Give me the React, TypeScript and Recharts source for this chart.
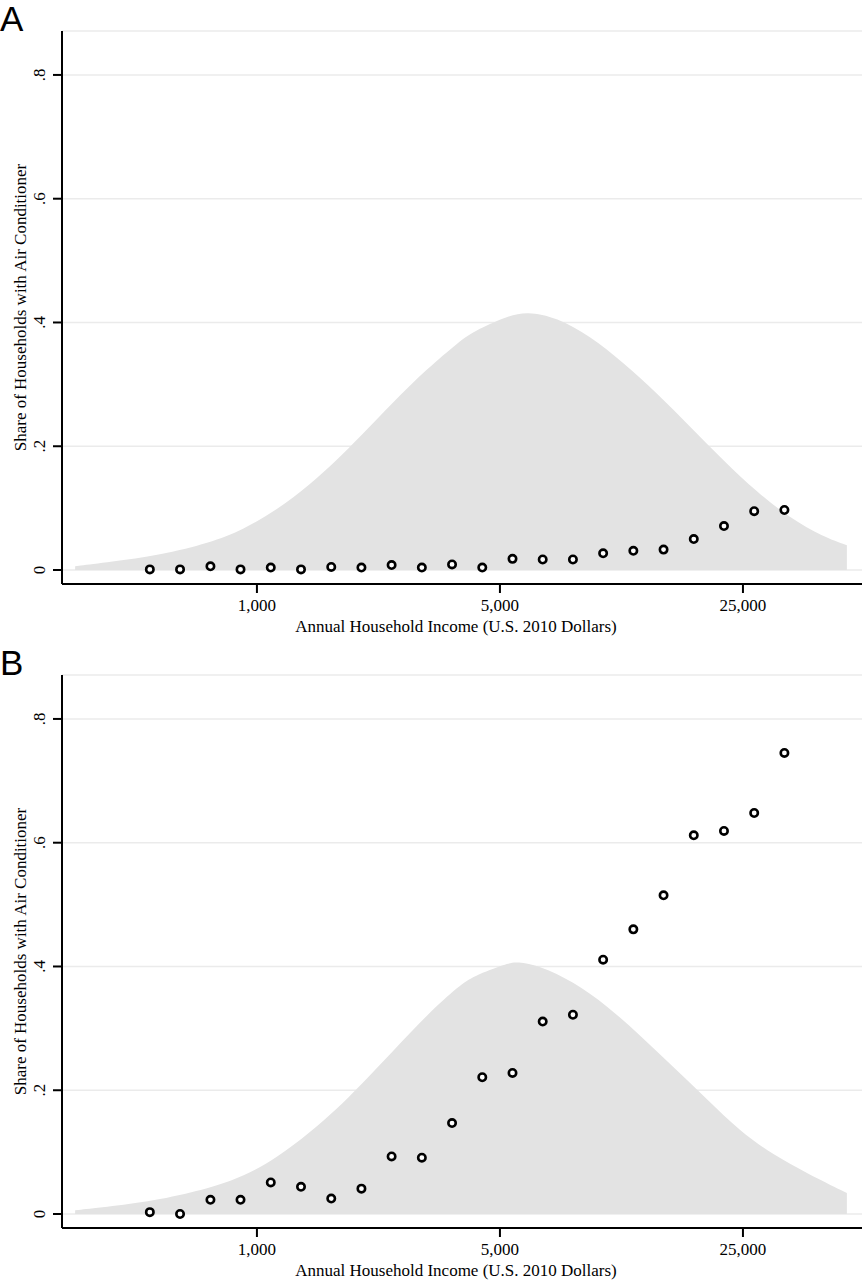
import React from 'react';
import { ComposedChart, Area, Scatter, XAxis, YAxis, CartesianGrid } from 'recharts';

// ---------- data ----------
const incomeTicks = [1000, 5000, 25000];
const shareTicks = [0, 0.2, 0.4, 0.6, 0.8];

// income bins (U.S. 2010 dollars) of the scatter points
const binIncome = [
  492, 601, 735, 897, 1096, 1339, 1636, 1998, 2440, 2981, 3641,
  4448, 5434, 6637, 8108, 9903, 12097, 14777, 18051, 22048, 26933, 32899,
];
const shareA = [
  0.001, 0.001, 0.006, 0.001, 0.004, 0.001, 0.005, 0.004, 0.008, 0.004, 0.009,
  0.004, 0.018, 0.017, 0.017, 0.027, 0.031, 0.033, 0.05, 0.071, 0.095, 0.097,
];
const shareB = [
  0.003, 0.0, 0.023, 0.023, 0.051, 0.044, 0.025, 0.041, 0.093, 0.091, 0.147,
  0.221, 0.228, 0.311, 0.322, 0.411, 0.46, 0.515, 0.612, 0.619, 0.648, 0.745,
];

// income density (gray area)
const densityIncomeA = [
  300, 378, 526, 732, 911, 1142, 1421, 1699, 1978, 2461, 3082, 3835, 4180,
  5236, 5976, 7293, 9073, 11288, 14141, 17592, 21884, 27416, 34113, 42443, 49763,
];
const densityA = [
  0.006, 0.013, 0.024, 0.044, 0.065, 0.097, 0.138, 0.178, 0.215, 0.271, 0.325, 0.37, 0.385,
  0.41, 0.418, 0.408, 0.378, 0.336, 0.286, 0.232, 0.178, 0.126, 0.084, 0.054, 0.04,
];
const densityIncomeB = [
  300, 378, 526, 732, 911, 1142, 1421, 1699, 1978, 2461, 3082, 3835, 4180,
  5236, 5595, 6515, 8105, 10153, 12635, 15719, 19689, 24496, 30479, 38182, 49763,
];
const densityB = [
  0.006, 0.012, 0.023, 0.042, 0.06, 0.091, 0.132, 0.17, 0.207, 0.263, 0.322, 0.37, 0.384,
  0.405, 0.408, 0.401, 0.376, 0.337, 0.289, 0.238, 0.186, 0.134, 0.096, 0.066, 0.034,
];

const yTitle = 'Share of Households with Air Conditioner';
const xTitle = 'Annual Household Income (U.S. 2010 Dollars)';

// ---------- helpers ----------
const SERIF = '"Liberation Serif", "Times New Roman", serif';
const SANS = '"Liberation Sans", Arial, sans-serif';

const fmtShare = (v: number) => (v === 0 ? '0' : String(v).replace(/^0/, ''));
const fmtIncome = (v: number) => v.toLocaleString('en-US');

const YTick = (props: any) => {
  const { x, y, payload } = props;
  return (
    <text
      x={x}
      y={y}
      transform={`rotate(-90 ${x} ${y})`}
      textAnchor="middle"
      fontFamily={SERIF}
      fontSize={17}
      fill="#000"
    >
      {fmtShare(payload.value)}
    </text>
  );
};

const YTitle = (props: any) => {
  const vb = props.viewBox || { x: 0, y: 31, width: 62, height: 553 };
  const cx = 26;
  const cy = vb.y + vb.height / 2;
  return (
    <text
      x={cx}
      y={cy}
      transform={`rotate(-90 ${cx} ${cy})`}
      textAnchor="middle"
      fontFamily={SERIF}
      fontSize={17}
      fill="#000"
    >
      {yTitle}
    </text>
  );
};

const XTitle = (props: any) => {
  const vb = props.viewBox || { x: 62, y: 584, width: 800, height: 60 };
  return (
    <text
      x={vb.x + vb.width / 2 - 6}
      y={vb.y + 48}
      textAnchor="middle"
      fontFamily={SERIF}
      fontSize={17}
      fill="#000"
    >
      {xTitle}
    </text>
  );
};

const Dot = (props: any) => {
  const { cx, cy } = props;
  if (cx == null || cy == null) return null;
  return <circle cx={cx} cy={cy} r={3.7} fill="#fff" stroke="#000" strokeWidth={2.6} />;
};

type PanelProps = {
  letter: string;
  top: number;
  densIncome: number[];
  dens: number[];
  shares: number[];
};

const Panel = ({ letter, top, densIncome, dens, shares }: PanelProps) => {
  const areaData = densIncome.map((x, i) => ({ x, y: dens[i] }));
  const pointData = binIncome.map((x, i) => ({ x, y: shares[i] }));
  return (
    <div style={{ position: 'absolute', left: 0, top, width: 862, height: 644 }}>
      <ComposedChart
        width={862}
        height={644}
        data={areaData}
        margin={{ top: 31, right: 0, bottom: 0, left: 0 }}
      >
        <CartesianGrid horizontal vertical={false} stroke="#ebebeb" strokeWidth={1.5} />
        <XAxis
          dataKey="x"
          type="number"
          scale="log"
          domain={[275, 55000]}
          allowDataOverflow
          ticks={incomeTicks}
          tickFormatter={fmtIncome}
          height={60}
          tickSize={9}
          tickMargin={6}
          axisLine={{ stroke: '#000', strokeWidth: 2 }}
          tickLine={{ stroke: '#000', strokeWidth: 2 }}
          tick={{ fill: '#000', fontSize: 17, fontFamily: SERIF }}
          label={<XTitle />}
        />
        <YAxis
          dataKey="y"
          type="number"
          domain={[-0.0226, 0.871]}
          allowDataOverflow
          ticks={shareTicks}
          width={62}
          tickSize={9}
          tickMargin={8}
          axisLine={{ stroke: '#000', strokeWidth: 2 }}
          tickLine={{ stroke: '#000', strokeWidth: 2 }}
          tick={<YTick />}
          label={<YTitle />}
        />
        <Area
          dataKey="y"
          type="basis"
          fill="#e3e3e3"
          fillOpacity={1}
          stroke="none"
          dot={false}
          activeDot={false}
          isAnimationActive={false}
        />
        <Scatter data={pointData} dataKey="y" shape={<Dot />} isAnimationActive={false} />
      </ComposedChart>
      <div
        style={{
          position: 'absolute',
          left: 0,
          top: 1,
          fontFamily: SANS,
          fontSize: 35,
          lineHeight: '35px',
          color: '#000',
        }}
      >
        {letter}
      </div>
    </div>
  );
};

export default function App() {
  return (
    <div
      style={{
        position: 'absolute',
        left: 0,
        top: 0,
        width: 862,
        height: 1280,
        overflow: 'hidden',
        background: '#fff',
      }}
    >
      <Panel letter="A" top={0} densIncome={densityIncomeA} dens={densityA} shares={shareA} />
      <Panel letter="B" top={644} densIncome={densityIncomeB} dens={densityB} shares={shareB} />
    </div>
  );
}
